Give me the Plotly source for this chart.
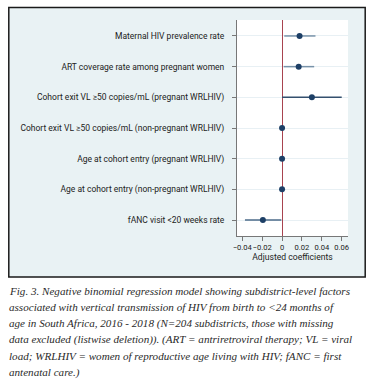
import plotly.graph_objects as go

labels = [
    "Maternal HIV prevalence rate",
    "ART coverage rate among pregnant women",
    "Cohort exit VL ≥50 copies/mL (pregnant WRLHIV)",
    "Cohort exit VL ≥50 copies/mL (non-pregnant WRLHIV)",
    "Age at cohort entry (pregnant WRLHIV)",
    "Age at cohort entry (non-pregnant WRLHIV)",
    "fANC visit <20 weeks rate",
]
coef = [0.0176, 0.0167, 0.030, 0.0, 0.0, 0.0, -0.0193]
ci_low = [0.0022, 0.0016, 0.0, -0.0003, -0.0003, -0.0003, -0.0373]
ci_high = [0.0336, 0.0323, 0.060, 0.0003, 0.0003, 0.0003, -0.0007]
ci_colors = ["#7892a9", "#7892a9", "#34506e", "#34506e", "#34506e", "#34506e", "#4c6b8a"]
xtick_vals = [-0.04, -0.02, 0, 0.02, 0.04, 0.06]
xtick_text = ["−0.04", "−0.02", "0", "0.02", "0.04", "0.06"]

caption_lines = [
    "Fig. 3. Negative binomial regression model showing subdistrict-level factors",
    "associated with vertical transmission of HIV from birth to <24 months of",
    "age in South Africa, 2016 - 2018 (N=204 subdistricts, those with missing",
    "data excluded (listwise deletion)). (ART = antriretroviral therapy; VL = viral",
    "load; WRLHIV = women of reproductive age living with HIV; fANC = first",
    "antenatal care.)",
]

W, H = 376, 388
PL, PR, PT, PB = 237, 348, 20, 236   # plot area in pixels

fig = go.Figure()

# confidence intervals
for lab, lo, hi, col in zip(labels, ci_low, ci_high, ci_colors):
    fig.add_trace(go.Scatter(
        x=[lo, hi], y=[lab, lab], mode="lines",
        line=dict(color=col, width=1.5),
        xaxis="x2", yaxis="y2", showlegend=False, hoverinfo="skip",
    ))
# point estimates
fig.add_trace(go.Scatter(
    x=coef, y=labels, mode="markers",
    marker=dict(color="#1d3f66", size=6),
    xaxis="x2", yaxis="y2", showlegend=False, hoverinfo="skip",
))

shapes = [
    dict(type="rect", xref="x", yref="y", x0=8.8, x1=365.2, y0=7.5, y1=277,
         fillcolor="#e9f2f4", line=dict(color="#1a1a1a", width=1.5), layer="below"),
    dict(type="rect", xref="x", yref="y", x0=PL, x1=PR, y0=PT, y1=PB,
         fillcolor="white", line=dict(width=0), layer="below"),
]

annotations = []
line_y = [290.5, 306.5, 323, 339.5, 356, 372]
for t, yy in zip(caption_lines, line_y):
    annotations.append(dict(
        text="<i>" + t.replace("<", "&lt;") + "</i>",
        xref="paper", yref="paper", x=7 / W, y=1 - yy / H,
        xanchor="left", yanchor="middle", showarrow=False,
        font=dict(family="Liberation Serif", size=11.1, color="#2a2a2a"),
    ))

fig.update_layout(
    width=W, height=H,
    margin=dict(l=0, r=0, t=0, b=0, pad=0),
    paper_bgcolor="white", plot_bgcolor="rgba(0,0,0,0)",
    font=dict(family="Roboto", size=8.5, color="#222"),
    shapes=shapes, annotations=annotations,
    xaxis=dict(domain=[0, 1], range=[0, W], visible=False, fixedrange=True),
    yaxis=dict(domain=[0, 1], range=[H, 0], visible=False, fixedrange=True),
    xaxis2=dict(domain=[PL / W, PR / W], anchor="y2", range=[-0.0453, 0.0663],
                tickvals=xtick_vals, ticktext=xtick_text, tickangle=0,
                showgrid=False, zeroline=True, zerolinecolor="#a8434f", zerolinewidth=1.2,
                showline=True, linecolor="#777", linewidth=1,
                ticks="outside", ticklen=4, tickcolor="#777",
                tickfont=dict(size=7.6), automargin=False,
                title=dict(text="Adjusted coefficients", font=dict(size=8.6), standoff=2)),
    yaxis2=dict(domain=[1 - PB / H, 1 - PT / H], anchor="x2", type="category",
                categoryorder="array", categoryarray=labels, range=[6.52, -0.52],
                showgrid=True, gridcolor="#e8f0f4", gridwidth=1,
                zeroline=False, showline=True, linecolor="#777", linewidth=1,
                ticks="outside", ticklen=4, tickcolor="#777", ticklabelstandoff=6,
                automargin=False),
)

fig.write_html("out.html", config={"displayModeBar": False},
               post_script="document.body.style.margin='0';")
